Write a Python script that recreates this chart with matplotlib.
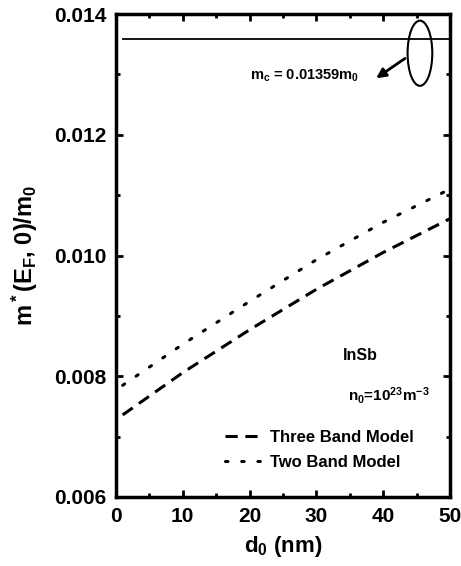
import numpy as np
import matplotlib
matplotlib.use('Agg')
import matplotlib.pyplot as plt
from matplotlib.patches import Ellipse
from matplotlib.ticker import MultipleLocator

plt.rcParams['font.family'] = 'Liberation Sans'
plt.rcParams['font.weight'] = 'bold'
plt.rcParams['axes.labelweight'] = 'bold'
plt.rcParams['mathtext.fontset'] = 'custom'
plt.rcParams['mathtext.rm'] = 'Liberation Sans:bold'
plt.rcParams['mathtext.it'] = 'Liberation Sans:bold'
plt.rcParams['mathtext.bf'] = 'Liberation Sans:bold'

# film thickness (nm)
d0 = [1, 10, 20, 30, 40, 50]
# effective mass ratio
three_band = [0.00736, 0.00806, 0.00877, 0.00944, 0.01005, 0.01061]
two_band = [0.00785, 0.00853, 0.00924, 0.00993, 0.01055, 0.01110]
mc = 0.01359

fig = plt.figure(figsize=(4.61, 5.66), dpi=100)
ax = fig.add_axes([116/461, 1-497/566, 334/461, 483/566])

ax.plot(d0, three_band, color='black', lw=2.2, dashes=(4, 2.5), label='Three Band Model')
ax.plot(d0, two_band, color='black', lw=2.2, dashes=(0.8, 4.5), dash_capstyle='round', label='Two Band Model')
ax.plot([1, 50], [mc, mc], color='black', lw=1.3)

ax.add_patch(Ellipse((45.5, 0.01335), 3.7, 0.00108, fill=False, lw=1.5, color='black'))
ax.annotate('', xy=(38.6, 0.01291), xytext=(43.6, 0.01329),
            arrowprops=dict(arrowstyle='-|>', color='black', lw=2, mutation_scale=14))
ax.text(20, 0.01297, r'm$_c$ = 0.01359m$_0$', fontsize=10.5, va='center')
ax.text(34, 0.00835, 'InSb', fontsize=11.5, va='center')
ax.text(34.8, 0.00768, r'n$_0$=10$^{23}$m$^{-3}$', fontsize=11, va='center')

ax.legend(loc='center left', bbox_to_anchor=(0.326, 0.097), frameon=False, fontsize=12,
          borderpad=0, borderaxespad=0, handlelength=2.2, handletextpad=0.5, labelspacing=0.6)

ax.set_xlim(0, 50)
ax.set_ylim(0.006, 0.014)
ax.xaxis.set_major_locator(MultipleLocator(10))
ax.xaxis.set_minor_locator(MultipleLocator(5))
ax.yaxis.set_major_locator(MultipleLocator(0.002))
ax.yaxis.set_minor_locator(MultipleLocator(0.001))
ax.yaxis.set_major_formatter(matplotlib.ticker.FormatStrFormatter('%.3f'))
ax.tick_params(which='both', direction='in', top=True, right=True, width=2, labelsize=15, pad=7)
ax.tick_params(which='major', length=5)
ax.tick_params(which='minor', length=3)
for s in ax.spines.values():
    s.set_linewidth(2.5)

ax.set_xlabel(r'd$_0$ (nm)', fontsize=16, labelpad=6)
ax.set_ylabel(r'm$^*$(E$_F$, 0)/m$_0$', fontsize=17, labelpad=10)

fig.savefig('out.png', dpi=100)
